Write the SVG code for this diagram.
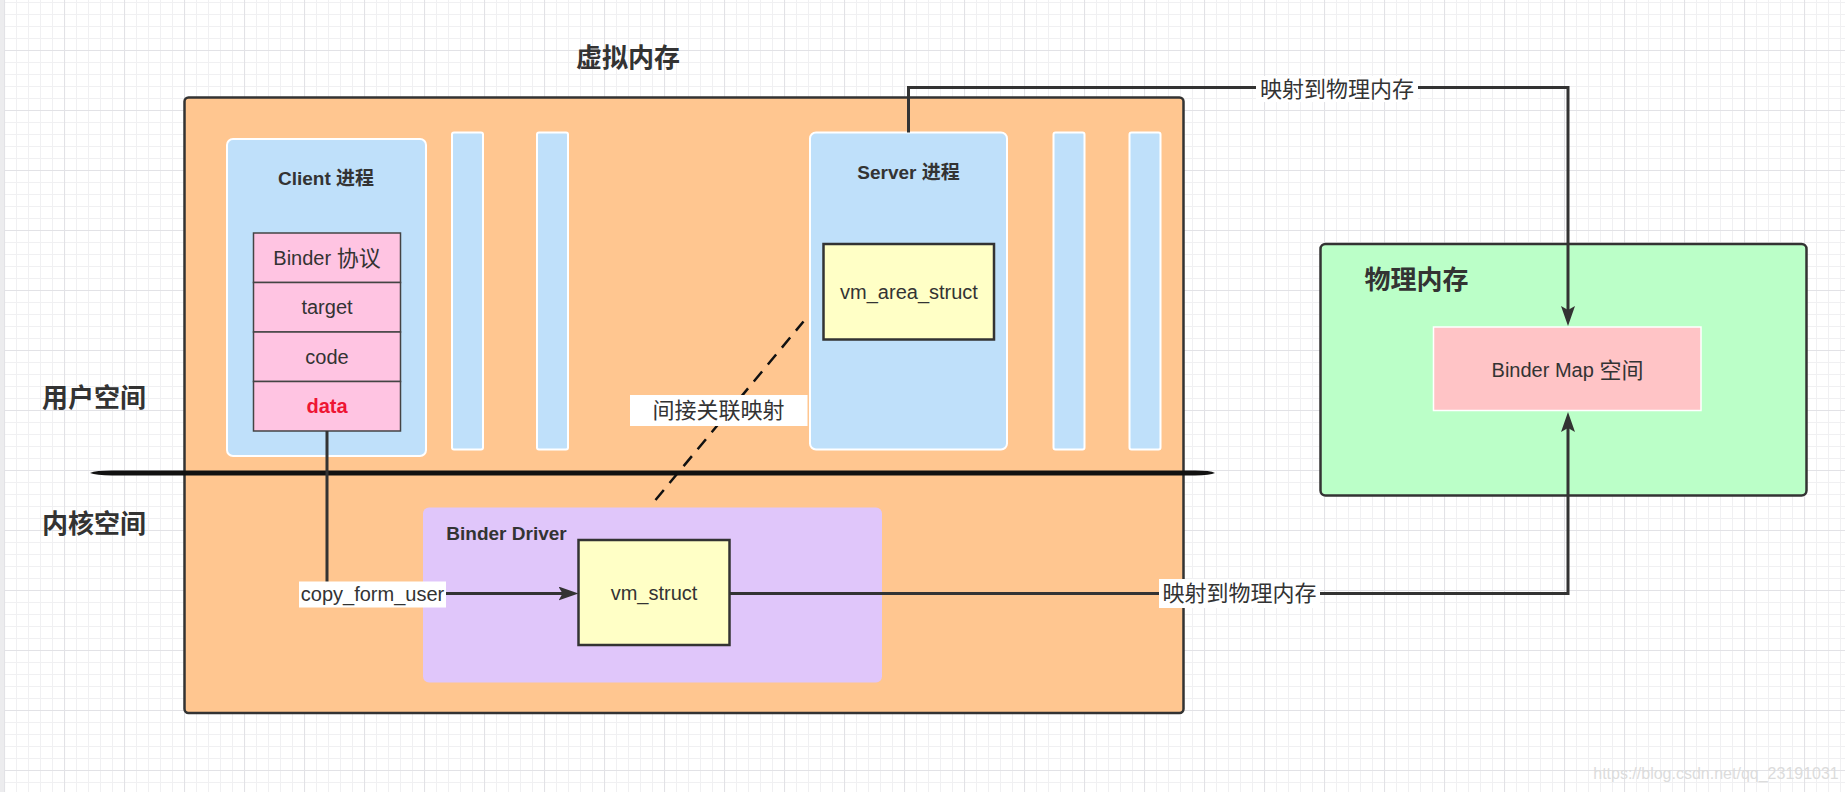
<svg xmlns="http://www.w3.org/2000/svg" width="1845" height="792" viewBox="0 0 1845 792">
<style>
text{font-family:"Liberation Sans","Noto Sans CJK SC",sans-serif;fill:#333;dominant-baseline:central;text-anchor:middle}
.t{font-size:20px}
.cj{font-size:22px}
.big{font-size:26px;font-weight:bold}
.sub{font-size:19px;font-weight:bold}
.proc{fill:#BFE0FA;stroke:#FFFFFF;stroke-width:2}
.row{fill:#FFC4E2;stroke:#444;stroke-width:1.5}
.ybox{fill:#FFFFC6;stroke:#333;stroke-width:2.5}
.conn{fill:none;stroke:#333;stroke-width:3}
.lbl{fill:#FFFFFF}
</style>
<defs>
<pattern id="grid" width="60" height="60" patternUnits="userSpaceOnUse" x="4" y="50">
<path d="M12.5,0V60M24.5,0V60M36.5,0V60M48.5,0V60M0,12.5H60M0,24.5H60M0,36.5H60M0,48.5H60" stroke="#F0F0F2" stroke-width="1" fill="none"/>
<path d="M0.5,0V60M0,0.5H60" stroke="#E2E2E6" stroke-width="1.2" fill="none"/>
</pattern>
<marker id="arr" viewBox="0 0 20 14" refX="10" refY="7" markerWidth="20" markerHeight="14" markerUnits="userSpaceOnUse" orient="auto">
<path d="M0,0 L20,7 L0,14 L4,7 Z" fill="#333"/>
</marker>
</defs>
<rect width="1845" height="792" fill="#FFFFFF"/>
<rect width="1845" height="792" fill="url(#grid)"/>
<rect x="0" y="0" width="4" height="792" fill="#ECECEE"/>

<g id="title-virtual"><text class="big" x="628" y="58">虚拟内存</text></g>
<g id="label-user"><text class="big" x="94" y="398">用户空间</text></g>
<g id="label-kernel"><text class="big" x="94" y="524">内核空间</text></g>

<g id="virtual-memory">
<rect x="184.5" y="97.5" width="999" height="615.5" rx="4" fill="#FFC690" stroke="#333" stroke-width="2.5"/>
</g>

<g id="client">
<rect class="proc" x="227" y="139" width="199" height="317" rx="6"/>
<text class="sub" x="326" y="178">Client <tspan>进程</tspan></text>
</g>
<g id="client-stack">
<rect class="row" x="253.5" y="233" width="147" height="49.5"/>
<text class="t" x="327" y="258">Binder <tspan class="cj">协议</tspan></text>
<rect class="row" x="253.5" y="282.5" width="147" height="49.5"/>
<text class="t" x="327" y="307">target</text>
<rect class="row" x="253.5" y="332" width="147" height="49.5"/>
<text class="t" x="327" y="357">code</text>
<rect class="row" x="253.5" y="381.5" width="147" height="49.5"/>
<text class="t" x="327" y="406" style="fill:#EE1533;font-weight:bold">data</text>
</g>

<g id="bar1"><rect class="proc" x="452" y="132.5" width="31" height="317" rx="2"/></g>
<g id="bar2"><rect class="proc" x="537" y="132.5" width="31" height="317" rx="2"/></g>

<g id="server">
<rect class="proc" x="810" y="132.5" width="197" height="317" rx="6"/>
<text class="sub" x="908.5" y="172">Server <tspan>进程</tspan></text>
</g>
<g id="vm-area-struct">
<rect class="ybox" x="823.5" y="244" width="170.5" height="95.5"/>
<text class="t" x="909" y="292">vm_area_struct</text>
</g>

<g id="bar3"><rect class="proc" x="1053.5" y="132.5" width="31" height="317" rx="2"/></g>
<g id="bar4"><rect class="proc" x="1129.5" y="132.5" width="31" height="317" rx="2"/></g>

<g id="divider">
<path d="M90,473 Q96,470.6 112,470.6 L1195,470.6 Q1210,470.6 1215,473 Q1210,475.4 1195,475.4 L112,475.4 Q96,475.4 90,473 Z" fill="#111"/>
</g>

<g id="binder-driver">
<rect x="423" y="507.5" width="459" height="175" rx="6" fill="#E0C6FA"/>
<text class="sub" x="506.5" y="533.5">Binder Driver</text>
</g>
<g id="vm-struct">
<rect class="ybox" x="578.5" y="540" width="151" height="105"/>
<text class="t" x="654" y="593">vm_struct</text>
</g>

<g id="physical-memory">
<rect x="1320.5" y="244" width="486" height="251.5" rx="5" fill="#BBFFC8" stroke="#333" stroke-width="2.5"/>
<text class="big" x="1416.5" y="280">物理内存</text>
</g>
<g id="binder-map">
<rect x="1433.5" y="327" width="267.5" height="83.5" fill="#FFC4C6" stroke="#FFFFFF" stroke-width="1.5"/>
<text class="t" x="1567.5" y="370">Binder Map <tspan class="cj">空间</tspan></text>
</g>

<g id="connectors">
<path class="conn" d="M908.5,132.5 V87.5 H1568 V316" marker-end="url(#arr)"/>
<rect class="lbl" x="1256" y="76" width="162" height="26"/>
<text class="cj" x="1337" y="89">映射到物理内存</text>

<path class="conn" d="M729.5,593.5 H1568 V422" marker-end="url(#arr)"/>
<rect class="lbl" x="1159" y="579" width="161" height="29"/>
<text class="cj" x="1239.5" y="593.5">映射到物理内存</text>

<path class="conn" d="M327,431 V593.5 H568.5" marker-end="url(#arr)"/>
<rect class="lbl" x="299" y="581.5" width="147" height="26"/>
<text class="t" x="372.5" y="594">copy_form_user</text>

<path d="M655.5,500 L803.5,321.5" fill="none" stroke="#111" stroke-width="2.5" stroke-dasharray="13 9"/>
<rect class="lbl" x="630" y="395" width="177.5" height="31"/>
<text class="cj" x="718.5" y="410">间接关联映射</text>
</g>

<g id="watermark"><text x="1716" y="773" style="font-size:16px;fill:#DCDCDC">https://blog.csdn.net/qq_23191031</text></g>
</svg>
